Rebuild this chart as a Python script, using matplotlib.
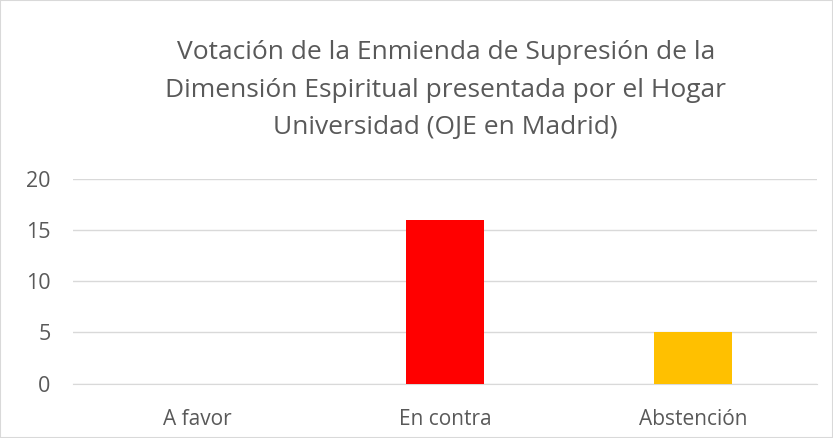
import matplotlib.pyplot as plt
from matplotlib.patches import Rectangle

# Datos
categorias = ['A favor', 'En contra', 'Abstención']
votos = [0, 16, 5]
colores = ['#4472C4', '#FF0000', '#FFC000']
yticks = [0, 5, 10, 15, 20]

plt.rcParams['font.family'] = ['Open Sans', 'DejaVu Sans']

fig = plt.figure(figsize=(8.33, 4.38), dpi=100)
ax = fig.add_axes([0.0876, 0.1244, 0.893, 0.468])

x = range(len(categorias))
ax.bar(x, votos, width=0.315, color=colores, zorder=3)

ax.set_xlim(-0.5, len(categorias) - 0.5)
ax.set_ylim(0, 20)
ax.set_yticks(yticks)
ax.set_xticks(list(x))
ax.set_xticklabels(categorias)
ax.tick_params(axis='both', length=0, colors='#595959')
ax.tick_params(axis='x', pad=18, labelsize=15)
ax.tick_params(axis='y', pad=16, labelsize=15.5)

ax.grid(axis='y', color='#D9D9D9', linewidth=1, zorder=0)
for s in ['top', 'right', 'left']:
    ax.spines[s].set_visible(False)
ax.spines['bottom'].set_color('#D9D9D9')

fig.text(0.535, 0.794,
         'Votación de la Enmienda de Supresión de la\n'
         'Dimensión Espiritual presentada por el Hogar\n'
         'Universidad (OJE en Madrid)',
         ha='center', va='center', fontsize=19, color='#595959',
         linespacing=1.65)

fig.patches.append(Rectangle((0, 0), 1, 1, transform=fig.transFigure,
                             fill=False, edgecolor='#D9D9D9', linewidth=1.5))

fig.savefig('out.png', dpi=100)
